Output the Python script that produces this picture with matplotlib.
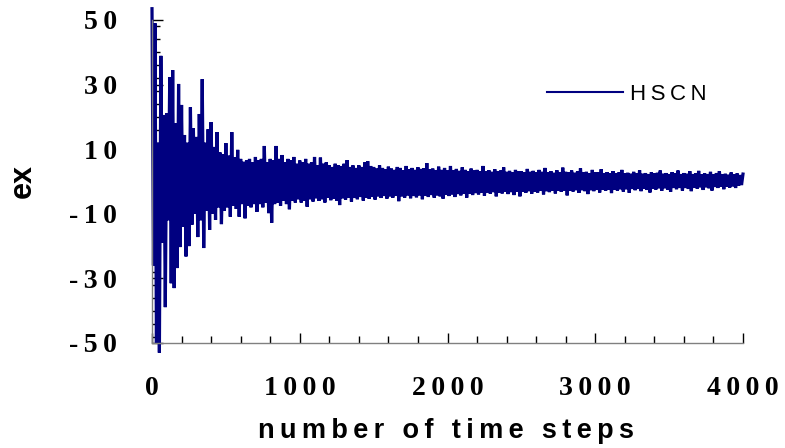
import numpy as np
import matplotlib
matplotlib.use("Agg")
import matplotlib.pyplot as plt
from matplotlib.ticker import FixedLocator, FixedFormatter, MultipleLocator

# ---- data ----
# local maxima, one every 20 time steps (steps 0, 20, ..., 4000)
upper = [
    53.5, 49, 12, 38.9, 20.6, 21.2, 32.3, 34.5, 18, 30.2,
    23.7, 14.4, 12, 23, 16.5, 13.8, 20.9, 31.7, 12, 16.2,
    18.4, 10.7, 15.3, 9, 8.5, 11.9, 8, 15.3, 7.5, 9.8,
    7, 6.1, 6.5, 7, 6, 7.6, 6.5, 7, 11, 6,
    7, 6.5, 11, 7, 8.2, 6, 7, 6.5, 7.6, 5.5,
    6.5, 6, 7, 5.5, 6, 7.6, 5, 7.4, 5.5, 6,
    5, 4.5, 5.5, 5, 4.8, 5.5, 6.6, 4.5, 5, 4.2,
    5, 4.5, 5.9, 6.3, 4.8,
    4.5, 4, 5, 4.2, 3.8, 4.6, 4, 3.6, 4.5, 4.2,
    3.5, 4.8, 3.8, 4.2, 3.6, 4.4, 3.9, 4.1, 5.7, 3.8,
    4, 3.5, 4.6, 3.6, 4.2, 3.4, 4.8, 3.5, 3.9, 3.3,
    4.4, 3.6, 3.2, 4, 3.4, 3.6, 3.1, 4.8, 3.2, 3.5,
    3.0, 3.8, 3.2, 3.4, 4.4, 3.0, 3.3, 2.9, 3.6, 3.1,
    3.2, 2.8, 3.9, 3.0, 3.3, 2.8, 3.6, 3.0, 4.2, 2.9,
    3.2, 2.7, 3.5, 2.9, 4.3, 3.0, 2.8, 3.4, 2.7, 3.1,
    4.1, 2.8, 3.0, 2.6, 3.6, 2.8, 2.9, 3.8, 2.6, 2.9,
    2.5, 3.2, 2.6, 2.8, 3.6, 2.5, 2.7, 2.4, 3.0, 2.5,
    3.5, 2.4, 2.6, 2.3, 2.9, 2.5, 2.7, 3.4, 2.4, 2.6,
    2.3, 2.9, 2.5, 3.4, 2.3, 2.6, 2.4, 3.2, 2.3, 2.5,
    3.3, 2.2, 2.5, 2.3, 3.0, 2.2, 2.6, 3.2, 2.2, 2.4,
    2.1, 2.8, 2.2, 2.5, 2.0, 2.3,
]
# local minima, one every 20 time steps (steps 10, 30, ..., 3990)
lower = [
    -26, -50, -53, -19, -38.9, -12, -31.5, -33, -26.8, -20.3,
    -14, -23.2, -20, -13.4, -10, -17.2, -12, -20.6, -9, -15,
    -10, -11.9, -8, -13.2, -9, -8, -10.9, -7.5, -8.5, -10.9,
    -7, -11.4, -7.5, -8, -7, -9.4, -7, -8, -6.5, -9.8,
    -12.8, -7, -6.5, -7.5, -6, -7, -8.6, -6, -6.5, -5.5,
    -6.5, -6, -7.8,
    -5.5, -6.2, -5.2, -6, -5.5, -6.5, -5, -5.8, -5.3, -6,
    -7.3, -5.2, -5.6, -5, -6.2, -5.1, -5.5, -4.8, -5.9, -5,
    -5.4, -4.8,
    -5.6, -4.6, -5.1, -4.5, -5.3, -4.6, -5.0, -4.4, -6.1, -4.6,
    -5.0, -4.3, -5.2, -4.5, -4.9, -4.3, -5.5, -4.4, -4.8, -4.2,
    -5.0, -4.3, -4.6, -5.3, -4.1, -4.5, -4.0, -4.8, -3.9, -4.3,
    -3.8, -5.0, -3.8, -4.2, -3.6,
    -4.0, -3.5, -4.4, -3.4, -3.8, -3.3, -4.6, -3.4, -3.7, -3.2,
    -3.9, -3.3, -4.2, -3.2, -4.6, -3.1, -3.5, -3.0, -3.8, -3.1,
    -3.4, -2.9, -4.0, -3.0, -3.3, -2.8, -3.7, -2.9, -3.2, -2.8,
    -4.3, -2.8, -3.1, -2.7, -3.5, -2.7, -3.0, -3.9, -2.7, -3.0,
    -2.6, -3.4, -2.6, -2.9, -2.5, -3.6, -2.5, -2.8, -2.4, -3.1,
    -2.4, -3.5, -2.3, -2.7, -2.3, -3.0, -2.2, -2.6, -3.4, -2.2,
    -2.5, -2.1, -2.9, -2.1, -2.5, -3.2, -2.0, -2.4, -2.0, -2.8,
    -2.0, -2.3, -3.0, -1.9, -2.2, -1.8, -2.6, -1.8, -2.1, -2.8,
    -1.7, -2.0, -1.6, -2.4, -1.6, -1.9, -1.5, -2.0, -1.3, -1.1,
]
series_name = "HSCN"
x_ticks = [0, 1000, 2000, 3000, 4000]
x_ticklabels = ["0", "1000", "2000", "3000", "4000"]
y_ticks = [-50, -30, -10, 10, 30, 50]
y_ticklabels = ["-50", "-30", "-10", "10", "30", "50"]
x_title = "number of time steps"
y_title = "ex"

# interleave maxima and minima along the time axis
n = len(upper) + len(lower)
values = np.empty(n)
values[0::2] = upper
values[1::2] = lower
steps = np.arange(n) * 10

TS = "\u2009"
def spaced(s):
    return TS.join(list(s))

fig = plt.figure(figsize=(7.85, 4.48), dpi=100)
ax = fig.add_axes([152 / 785, 105 / 448, 591 / 785, 323 / 448])

ax.plot(steps, values, color="#000080", lw=2.3, clip_on=False,
        solid_joinstyle="miter", label=spaced(series_name))

ax.set_xlim(0, 4000)
ax.set_ylim(-50, 50)

for s in ("top", "right"):
    ax.spines[s].set_visible(False)
for s in ("left", "bottom"):
    ax.spines[s].set_color("#808080")
    ax.spines[s].set_linewidth(1.0)

ax.xaxis.set_major_locator(FixedLocator(x_ticks))
ax.xaxis.set_major_formatter(FixedFormatter([spaced(t) for t in x_ticklabels]))
ax.xaxis.set_minor_locator(MultipleLocator(200))
ax.yaxis.set_major_locator(FixedLocator(y_ticks))
ax.yaxis.set_major_formatter(FixedFormatter([spaced(t) for t in y_ticklabels]))
ax.yaxis.set_minor_locator(MultipleLocator(4))

ax.tick_params(axis="both", which="both", direction="in", color="black", width=1.0)
ax.tick_params(axis="x", which="major", length=7, pad=24)
ax.tick_params(axis="x", which="minor", length=5)
ax.tick_params(axis="y", which="major", length=8, pad=25)
ax.tick_params(axis="y", which="minor", length=6)

for lab in ax.get_xticklabels() + ax.get_yticklabels():
    lab.set_fontfamily("Liberation Serif")
    lab.set_fontweight("bold")
    lab.set_fontsize(20)

fig.text(445.5 / 785, 10 / 448, spaced(x_title), ha="center", va="baseline",
         fontfamily="Liberation Sans", fontweight="bold", fontsize=19.5)
fig.text(23 / 785, (448 - 181) / 448, y_title, ha="center", va="center",
         rotation=90, fontfamily="Liberation Sans", fontweight="bold", fontsize=22)

leg = ax.legend(loc="center left", bbox_to_anchor=((547 - 152) / 591, (343 - 94) / 323),
                frameon=False, borderpad=0, borderaxespad=0,
                handlelength=3.4, handletextpad=0.35,
                prop={"family": "Liberation Sans", "size": 16})
leg.get_lines()[0].set_linewidth(1.5)

fig.savefig("out.png", dpi=100)
